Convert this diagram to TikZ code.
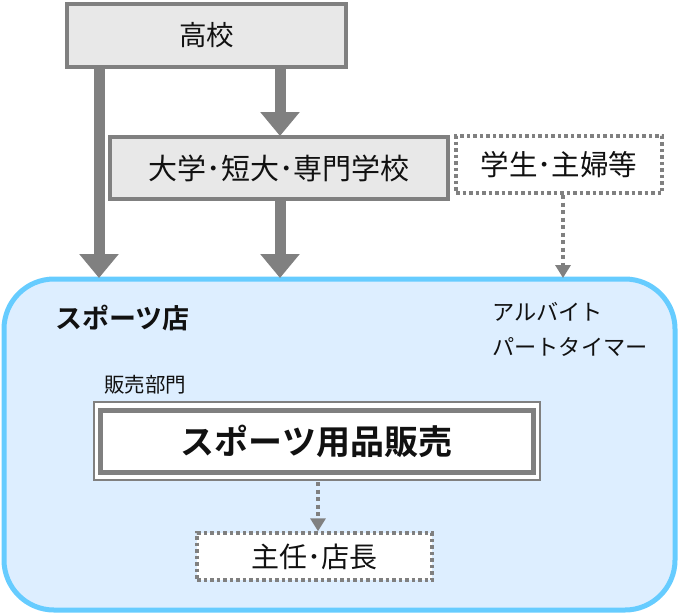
\documentclass[tikz,border=0pt]{standalone}
\usepackage{fontspec}
\setmainfont{Noto Sans CJK JP}
\newfontfamily\jpbold{Noto Sans CJK JP Bold}
\usetikzlibrary{arrows.meta}
\definecolor{boxgray}{HTML}{E8E8E8}
\definecolor{linegray}{HTML}{808080}
\definecolor{storefill}{HTML}{DDEEFF}
\definecolor{storeline}{HTML}{66CCFF}
\definecolor{txt}{HTML}{111111}
\tikzset{
  x=1pt, y=-1pt,
  graybox/.style={draw=linegray, line width=4pt, fill=boxgray, inner sep=0pt},
  dotbox/.style={draw=linegray, line width=3.5pt, dash pattern=on 3.5pt off 3pt, fill=white, inner sep=0pt},
  bigarrow/.style={draw=linegray, line width=11pt, -{Triangle[width=38pt,length=24pt]}},
  dotarrow/.style={draw=linegray, line width=4pt, dash pattern=on 4pt off 3.5pt, -{Triangle[width=15pt,length=13pt]}},
  lbl/.style={text=txt, inner sep=0pt}
}
\begin{document}
\begin{tikzpicture}
\useasboundingbox (0,0) rectangle (679,614);
% store
\draw[draw=storeline, fill=storefill, line width=5pt, rounded corners=50pt] (4,279) rectangle (675,610);
\coordinate (storetopL) at (99,278);
\coordinate (storetopM) at (280,278);
\coordinate (storetopR) at (563,278);
% top boxes
\node[graybox, minimum width=279pt, minimum height=63pt] (hs) at (206.5,35.5) {};
\node[lbl, font=\fontsize{27.5}{30}\selectfont] at (hs) {高校};
\node[graybox, minimum width=338pt, minimum height=62pt] (univ) at (279,168) {};
\node[lbl, font=\fontsize{29}{30}\selectfont] at (univ) {大学･短大･専門学校};
\node[dotbox, minimum width=206pt, minimum height=57pt] (stud) at (559,164.5) {};
\node[lbl, font=\fontsize{28.5}{30}\selectfont] at (stud) {学生･主婦等};
% arrows
\draw[bigarrow] (99,66) -- (storetopL);
\draw[bigarrow] (280,66) -- (280,136);
\draw[bigarrow] (univ.south -| storetopM) -- (storetopM);
\draw[dotarrow] (563,195) -- (storetopR);
% store labels
\node[lbl, font=\jpbold\fontsize{27}{30}\selectfont, anchor=west] (store) at (55,318) {スポーツ店};
\node[lbl, font=\fontsize{22.2}{35}\selectfont, align=left, anchor=north west] (part) at (492,302) {アルバイト\\パートタイマー};
\node[lbl, font=\fontsize{20.5}{22}\selectfont, anchor=west] (dept) at (104,385) {販売部門};
% sales box (double border)
\draw[draw=linegray, line width=1.5pt, fill=white] (94,402) rectangle (540,480);
\node[draw=linegray, line width=5pt, fill=white, minimum width=433pt, minimum height=62pt, inner sep=0pt] (sales) at (316.5,441) {};
\node[lbl, font=\jpbold\fontsize{34}{40}\selectfont] at (sales) {スポーツ用品販売};
% manager
\node[dotbox, minimum width=235pt, minimum height=47pt] (mgr) at (314.5,556.5) {};
\node[lbl, font=\fontsize{28}{30}\selectfont] at (mgr) {主任･店長};
\draw[dotarrow] (318,482) -- (mgr.north -| 318,0);
\end{tikzpicture}
\end{document}
